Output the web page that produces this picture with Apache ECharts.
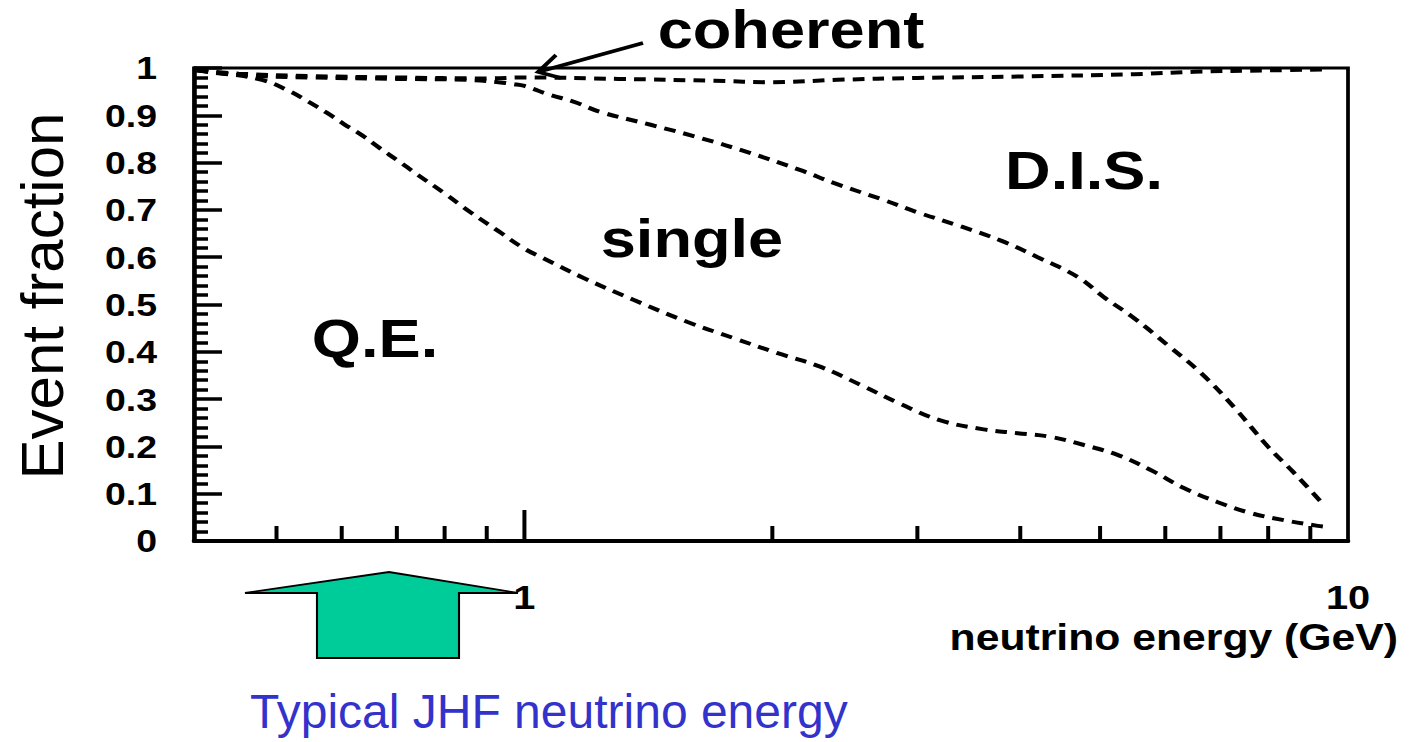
<!DOCTYPE html>
<html><head><meta charset="utf-8">
<script src="https://cdn.jsdelivr.net/npm/echarts@6/dist/echarts.min.js"></script>
<style>
html,body{margin:0;padding:0;background:#fff;overflow:hidden}
#wrap{width:1414px;height:742px;overflow:hidden;position:relative}
#c{height:742px;transform-origin:0 0;position:absolute;left:0;top:0}
</style></head>
<body><div id="wrap"><div id="c"></div></div>
<script>
// ---- data ----
const qeEnergy   = [0.40,0.425,0.48,0.52,0.545,0.576,0.603,0.636,0.668,0.701,0.741,0.80,0.86,0.93,1.0,1.054,1.18,1.356,1.578,1.795,2.03,2.29,2.56,2.86,3.2,3.61,3.97,4.36,4.78,5.25,5.76,6.32,6.95,7.62,8.36,9.19,9.4];
const qeFraction = [0.995,0.99,0.975,0.95,0.93,0.905,0.882,0.857,0.83,0.805,0.775,0.735,0.695,0.655,0.618,0.598,0.556,0.51,0.463,0.429,0.397,0.368,0.33,0.29,0.255,0.236,0.228,0.22,0.203,0.182,0.15,0.112,0.082,0.059,0.044,0.032,0.03];

const singleEnergy   = [0.40,0.45,0.55,0.70,0.85,0.93,0.97,1.0,1.075,1.147,1.237,1.423,1.636,1.882,2.164,2.374,2.73,3.0,3.39,3.79,4.20,4.70,5.05,5.50,6.04,6.63,7.27,8.0,8.6,9.35];
const singleFraction = [0.995,0.985,0.98,0.977,0.975,0.97,0.966,0.962,0.943,0.929,0.907,0.88,0.852,0.82,0.784,0.757,0.721,0.695,0.665,0.635,0.600,0.558,0.516,0.471,0.414,0.355,0.283,0.199,0.144,0.076];

const cohEnergy   = [0.40,0.45,0.55,0.70,0.90,1.0,1.3,1.7,2.0,2.4,3.0,4.0,5.5,6.5,8.0,9.4];
const cohFraction = [0.995,0.988,0.983,0.98,0.978,0.98,0.977,0.973,0.97,0.975,0.979,0.982,0.987,0.992,0.995,0.997];

const xTickLabels  = ['1','10'];
const xMajorTicks  = [1];
const xMinorTicks  = [0.5,0.6,0.7,0.8,0.9,2,3,4,5,6,7,8,9];
const yTickLabels  = ['0','0.1','0.2','0.3','0.4','0.5','0.6','0.7','0.8','0.9','1'];

const regionLabels = ['Q.E.','single','D.I.S.','coherent'];
const xTitle = 'neutrino energy (GeV)';
const yTitle = 'Event fraction';
const noteText = 'Typical JHF neutrino energy';

// ---- layout ----
const S = 1.17;                 // horizontal stretch of the original figure
const W = 1414 / S;
const X = px => px / S;
const el = document.getElementById('c');
el.style.width = W + 'px';
el.style.transform = 'scaleX(' + S + ')';

const FONT = '"Liberation Sans", Arial, Helvetica, sans-serif';
const zip = (a, b) => a.map((v, i) => [v, b[i]]);
const dashed = {color:'#000', width:4, type:[10,7], cap:'butt'};
const centered = {align:'center', verticalAlign:'middle', textAlign:'center', textVerticalAlign:'middle'};

const chart = echarts.init(el, null, {renderer:'svg', width: W, height: 742});

const tickData = xMajorTicks.map(v => [v, 1]).concat(xMinorTicks.map(v => [v, 0]));

chart.setOption({
  backgroundColor:'#fff',
  animation:false,
  grid:{left:X(194), right:X(1414-1348), top:68, bottom:742-541, show:true, borderColor:'#000', borderWidth:3.2, backgroundColor:'transparent'},
  xAxis:{
    type:'log', logBase:10, min:0.397, max:10,
    axisLine:{lineStyle:{color:'#000', width:4}},
    axisTick:{show:false}, splitLine:{show:false}, minorTick:{show:false},
    axisLabel:{
      margin:40, fontSize:34, fontWeight:'bold', color:'#000', fontFamily:FONT,
      showMinLabel:false, showMaxLabel:true,
      formatter: v => { const s = String(Math.round(v*1000)/1000); return xTickLabels.indexOf(s) >= 0 ? s : ''; }
    }
  },
  yAxis:{
    type:'value', min:0, max:1, interval:0.1,
    axisLine:{lineStyle:{color:'#000', width:3.4}},
    axisTick:{inside:true, length:X(28), lineStyle:{color:'#000', width:3.5}},
    minorTick:{show:true, splitNumber:5, length:X(14), lineStyle:{color:'#000', width:3.5}},
    splitLine:{show:false}, minorSplitLine:{show:false},
    axisLabel:{
      margin:X(37), fontSize:32, fontWeight:'bold', color:'#000', fontFamily:FONT,
      formatter: v => yTickLabels[Math.round(v*10)]
    }
  },
  series:[
    {type:'line', data:zip(qeEnergy, qeFraction), showSymbol:false, smooth:0.4, lineStyle:dashed, z:3, silent:true},
    {type:'line', data:zip(singleEnergy, singleFraction), showSymbol:false, smooth:0.4, lineStyle:dashed, z:3, silent:true},
    {type:'line', data:zip(cohEnergy, cohFraction), showSymbol:false, smooth:0.4, lineStyle:dashed, z:3, silent:true},
    {type:'custom', data:tickData, silent:true, z:4,
      renderItem:(params, api) => {
        const p = api.coord([api.value(0), 0]);
        const len = api.value(1) ? 31 : 15;
        return {type:'line', shape:{x1:p[0], y1:p[1], x2:p[0], y2:p[1]-len},
                style:{stroke:'#000', lineWidth:X(4)}};
      }}
  ],
  graphic:[
    {type:'polygon', z:-1, shape:{points:[[X(245),593],[X(389),572],[X(518),593],[X(459),593],[X(459),658],[X(317),658],[X(317),593]]},
      style:{fill:'#00CC99', stroke:'#000', lineWidth:1.8}},
    {type:'line', shape:{x1:X(643), y1:43, x2:X(538), y2:72}, style:{stroke:'#000', lineWidth:3.5}},
    {type:'polyline', shape:{points:[[X(556),55],[X(538),72],[X(561),78]]}, style:{stroke:'#000', lineWidth:3.5, fill:null}},
    {type:'text', x:X(791), y:29, style:Object.assign({text:regionLabels[3], font:'bold 54px '+FONT, fill:'#000'}, centered)},
    {type:'text', x:X(692), y:238, style:Object.assign({text:regionLabels[1], font:'bold 54px '+FONT, fill:'#000'}, centered)},
    {type:'text', x:X(375), y:338, style:Object.assign({text:regionLabels[0], font:'bold 54px '+FONT, fill:'#000'}, centered)},
    {type:'text', x:X(1084), y:170, style:Object.assign({text:regionLabels[2], font:'bold 54px '+FONT, fill:'#000'}, centered)},
    {type:'text', x:X(1398), y:637, style:{text:xTitle, font:'bold 36.5px '+FONT, fill:'#000', align:'right', verticalAlign:'middle', textAlign:'right', textVerticalAlign:'middle'}},
    {type:'text', x:X(42), y:296, rotation:Math.PI/2, scaleY:1/S, style:Object.assign({text:yTitle, font:'60px '+FONT, fill:'#000'}, centered)},
    {type:'text', x:X(250), y:712, scaleX:1.0/S, style:{text:noteText, font:'48px '+FONT, fill:'#3333CC', align:'left', verticalAlign:'middle', textAlign:'left', textVerticalAlign:'middle'}}
  ]
});
</script>
</body></html>
